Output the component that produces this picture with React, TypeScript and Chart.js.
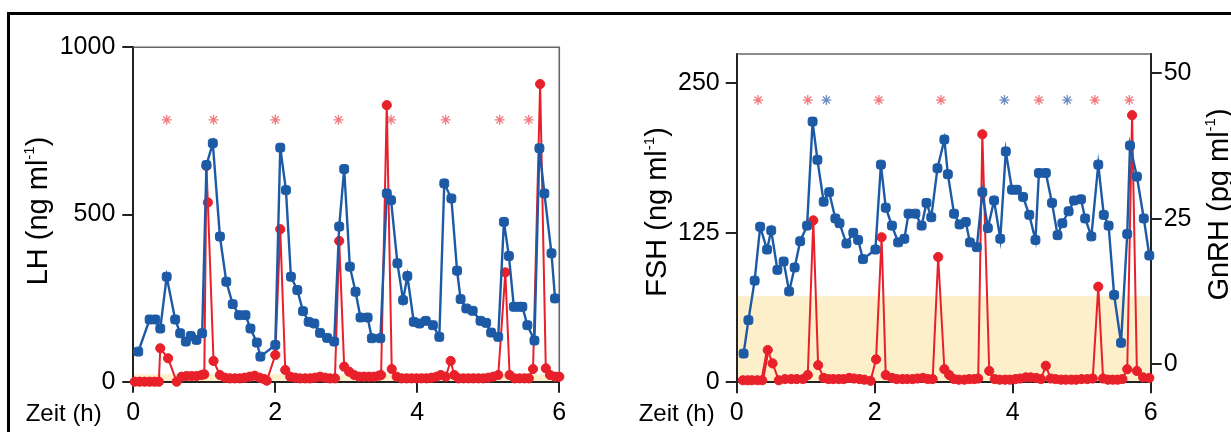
import React, { useEffect, useRef } from 'react';
import { Chart, registerables } from 'chart.js';

Chart.register(...registerables);

// ---------------- DATA ----------------
const timeTicks = [0, 2, 4, 6];
const lhTicks = [0, 500, 1000];
const fshTicks = [0, 125, 250];
const gnrhTicks = [0, 25, 50];

// LH (blue, left panel)
const lhTime = [0.07, 0.23, 0.31, 0.38, 0.47, 0.59, 0.66, 0.74, 0.81, 0.89, 0.97, 1.03, 1.12, 1.22, 1.31, 1.40, 1.49, 1.58, 1.65, 1.74, 1.79, 2.00, 2.07, 2.15, 2.22, 2.31, 2.39, 2.47, 2.55, 2.63, 2.73, 2.83, 2.90, 2.97, 3.05, 3.13, 3.20, 3.30, 3.36, 3.48, 3.57, 3.63, 3.72, 3.80, 3.86, 3.95, 4.03, 4.12, 4.22, 4.31, 4.38, 4.48, 4.56, 4.61, 4.69, 4.78, 4.89, 4.97, 5.04, 5.14, 5.22, 5.29, 5.36, 5.43, 5.48, 5.55, 5.65, 5.72, 5.79, 5.89, 5.94];
const lhValue = [90, 186, 186, 159, 314, 186, 145, 120, 137, 125, 145, 648, 713, 434, 299, 232, 199, 199, 159, 117, 75, 110, 700, 573, 314, 274, 211, 179, 174, 146, 131, 120, 464, 636, 344, 269, 192, 192, 130, 130, 563, 543, 354, 244, 316, 179, 174, 182, 169, 134, 593, 548, 332, 247, 219, 212, 182, 176, 147, 134, 478, 376, 224, 224, 224, 169, 123, 698, 563, 384, 249];

// GnRH (red, left panel, on LH scale)
const gnrhLhTime = [0.02, 0.09, 0.16, 0.23, 0.30, 0.36, 0.38, 0.49, 0.61, 0.68, 0.75, 0.82, 0.89, 0.96, 1.00, 1.03, 1.05, 1.13, 1.22, 1.29, 1.36, 1.43, 1.50, 1.57, 1.64, 1.71, 1.78, 1.84, 1.88, 2.00, 2.07, 2.14, 2.21, 2.28, 2.35, 2.42, 2.49, 2.56, 2.63, 2.70, 2.77, 2.84, 2.90, 2.97, 3.04, 3.11, 3.18, 3.25, 3.32, 3.39, 3.46, 3.49, 3.57, 3.64, 3.71, 3.78, 3.85, 3.92, 3.99, 4.06, 4.13, 4.20, 4.27, 4.33, 4.40, 4.47, 4.52, 4.58, 4.65, 4.72, 4.79, 4.86, 4.93, 5.00, 5.07, 5.14, 5.24, 5.30, 5.37, 5.44, 5.51, 5.57, 5.63, 5.73, 5.81, 5.87, 5.94, 6.00];
const gnrhLhValue = [0, 0, 0, 0, 0, 0, 100, 70, 0, 15, 17, 17, 17, 20, 22, 645, 536, 62, 20, 12, 10, 10, 10, 12, 15, 18, 12, 8, 3, 80, 456, 35, 15, 12, 10, 10, 10, 12, 15, 12, 10, 10, 421, 45, 30, 20, 15, 15, 15, 15, 18, 20, 827, 38, 15, 10, 10, 10, 10, 10, 10, 12, 15, 20, 15, 62, 20, 10, 10, 10, 10, 10, 10, 12, 15, 20, 327, 20, 10, 10, 10, 10, 38, 890, 40, 20, 15, 15];

// FSH (blue, right panel)
const fshTime = [0.10, 0.17, 0.26, 0.34, 0.44, 0.50, 0.59, 0.68, 0.76, 0.84, 0.92, 1.02, 1.10, 1.17, 1.26, 1.34, 1.43, 1.49, 1.59, 1.69, 1.76, 1.83, 2.01, 2.09, 2.16, 2.25, 2.34, 2.43, 2.49, 2.59, 2.68, 2.75, 2.82, 2.91, 3.01, 3.06, 3.15, 3.23, 3.32, 3.38, 3.48, 3.56, 3.64, 3.73, 3.82, 3.90, 3.99, 4.06, 4.15, 4.24, 4.33, 4.38, 4.48, 4.57, 4.65, 4.72, 4.81, 4.89, 4.99, 5.05, 5.14, 5.24, 5.32, 5.39, 5.47, 5.57, 5.66, 5.70, 5.80, 5.90, 5.98];
const fshValue = [24, 52, 85, 130, 111, 127, 94, 101, 76, 96, 118, 131, 218, 186, 151, 159, 137, 133, 116, 125, 119, 103, 111, 182, 146, 131, 117, 120, 141, 141, 131, 150, 138, 179, 203, 174, 141, 132, 134, 117, 113, 159, 129, 152, 120, 193, 161, 161, 155, 140, 119, 175, 175, 150, 123, 133, 143, 152, 153, 137, 122, 182, 140, 131, 73, 33, 124, 198, 172, 137, 106];

// GnRH (red, right panel, on GnRH axis)
const gnrhFshTime = [0.09, 0.16, 0.22, 0.30, 0.37, 0.45, 0.52, 0.61, 0.70, 0.79, 0.87, 0.96, 1.03, 1.11, 1.18, 1.26, 1.33, 1.40, 1.48, 1.55, 1.63, 1.70, 1.78, 1.85, 1.94, 2.02, 2.10, 2.16, 2.25, 2.32, 2.40, 2.47, 2.55, 2.62, 2.70, 2.77, 2.84, 2.92, 3.01, 3.08, 3.15, 3.22, 3.30, 3.37, 3.44, 3.50, 3.56, 3.66, 3.74, 3.81, 3.89, 3.96, 4.04, 4.11, 4.19, 4.26, 4.34, 4.41, 4.48, 4.55, 4.62, 4.70, 4.77, 4.85, 4.92, 5.00, 5.08, 5.16, 5.24, 5.31, 5.38, 5.45, 5.52, 5.59, 5.66, 5.73, 5.80, 5.89, 5.98];
const gnrhFshValue = [-2.8, -2.8, -2.8, -2.8, -2.8, 2.4, 0.1, -2.8, -2.6, -2.6, -2.6, -2.6, -1.9, 24.7, -0.2, -2.4, -2.6, -2.6, -2.6, -2.6, -2.4, -2.5, -2.6, -2.7, -2.9, 0.8, 21.8, -1.9, -2.4, -2.6, -2.6, -2.6, -2.6, -2.5, -2.4, -2.6, -2.6, 18.4, -0.9, -1.9, -2.6, -2.7, -2.7, -2.6, -2.6, -2.5, 39.5, -1.2, -2.6, -2.7, -2.7, -2.7, -2.6, -2.5, -2.3, -2.3, -2.4, -2.6, -0.3, -2.5, -2.6, -2.7, -2.7, -2.7, -2.7, -2.6, -2.6, -2.5, 13.3, -2.5, -2.7, -2.7, -2.7, -2.6, -0.9, 42.8, -1.2, -2.3, -2.4];

// pulse markers (asterisks)
const lhPulseTimes = [0.47, 1.13, 2.0, 2.89, 3.63, 4.4, 5.16, 5.57];
const lhPulseLevel = 783;
const fshPulseRedTimes = [0.31, 1.03, 2.06, 2.96, 4.38, 5.19, 5.69];
const fshPulseBlueTimes = [1.3, 3.88, 4.79];
const fshPulseLevel = 236;

// shaded reference bands
const lhBand = [0, 22];
const fshBand = [0, 72];

// ---------------- STYLE ----------------
const FONT = '"Liberation Sans", Arial, Helvetica, sans-serif';
const BLUE = '#1d5aa6';
const RED = '#e8202a';
const PINK = '#f07a7e';
const STEEL = '#6e8dc4';
const BAND = '#fcefc9';
const AXIS = '#222';
const TICK_SIZE = 25;

const W = 1231;
const H = 432;

const zip = (xs: number[], ys: number[]) => xs.map((x, i) => ({ x, y: ys[i] }));
const flat = (xs: number[], y: number) => xs.map((x) => ({ x, y }));

function drawVLabel(ctx: CanvasRenderingContext2D, x: number, yc: number, main: string, sup: string, tail: string, size: number) {
  ctx.save();
  ctx.fillStyle = '#000';
  const f = `${size}px ${FONT}`;
  const supSize = Math.round(size * 0.52);
  const fs = `${supSize}px ${FONT}`;
  ctx.font = f;
  const w1 = ctx.measureText(main).width;
  const w3 = ctx.measureText(tail).width;
  ctx.font = fs;
  const w2 = ctx.measureText(sup).width;
  const total = w1 + w2 + w3;
  ctx.translate(x, yc);
  ctx.rotate(-Math.PI / 2);
  ctx.textAlign = 'left';
  ctx.textBaseline = 'alphabetic';
  const s = -total / 2;
  ctx.font = f;
  ctx.fillText(main, s, 0);
  ctx.font = fs;
  ctx.fillText(sup, s + w1, -size * 0.44);
  ctx.font = f;
  ctx.fillText(tail, s + w1 + w2, 0);
  ctx.restore();
}

function drawText(ctx: CanvasRenderingContext2D, text: string, x: number, y: number, size: number) {
  ctx.save();
  ctx.fillStyle = '#000';
  ctx.font = `${size}px ${FONT}`;
  ctx.textAlign = 'left';
  ctx.textBaseline = 'alphabetic';
  ctx.fillText(text, x, y);
  ctx.restore();
}

const bandPlugin = (scaleId: string, band: number[]) => ({
  id: 'band',
  beforeDraw(chart: any) {
    const { ctx, chartArea: a } = chart;
    const s = chart.scales[scaleId];
    const y1 = s.getPixelForValue(band[1]);
    const y0 = s.getPixelForValue(band[0]);
    ctx.save();
    ctx.fillStyle = BAND;
    ctx.fillRect(a.left, y1, a.right - a.left, y0 - y1);
    ctx.restore();
  },
});

const framePlugin = (rightSide: boolean) => ({
  id: 'frame',
  beforeDatasetsDraw(chart: any) {
    const { ctx, chartArea: a } = chart;
    ctx.save();
    ctx.strokeStyle = '#666';
    ctx.lineWidth = 1.6;
    ctx.beginPath();
    ctx.moveTo(a.left, a.top);
    ctx.lineTo(a.right, a.top);
    if (rightSide) ctx.lineTo(a.right, a.bottom);
    ctx.stroke();
    ctx.restore();
  },
});

const tickFix = (vals: number[]) => (s: any) => {
  s.ticks = vals.map((v) => ({ value: v }));
};

const axisBase = (pad: number) => ({
  ticks: {
    color: '#000',
    font: { family: FONT, size: TICK_SIZE },
    padding: pad,
    autoSkip: false,
    maxRotation: 0,
    minRotation: 0,
    callback: (v: any) => String(v),
  },
  grid: { drawOnChartArea: false, drawTicks: true, tickLength: 11, color: AXIS, lineWidth: 2 },
  border: { display: true, color: AXIS, width: 2 },
});

const blueSet = (data: any[], yAxisID: string) => ({
  data,
  yAxisID,
  borderColor: BLUE,
  backgroundColor: BLUE,
  borderWidth: 2.4,
  pointStyle: 'rectRounded',
  pointRadius: 5.2,
  pointBorderWidth: 1,
  pointBackgroundColor: BLUE,
  pointBorderColor: BLUE,
  tension: 0,
  clip: false,
});

const redSet = (data: any[], yAxisID: string, thickIndex = -1) => ({
  data,
  yAxisID,
  borderColor: RED,
  backgroundColor: RED,
  borderWidth: 2,
  pointStyle: 'circle',
  pointRadius: 4.6,
  pointBorderWidth: 1,
  pointBackgroundColor: RED,
  pointBorderColor: RED,
  tension: 0,
  clip: false,
  segment: {
    borderWidth: (c: any) => (c.p0DataIndex === thickIndex ? 3.6 : 2),
  },
});

const starSet = (data: any[], yAxisID: string, color: string) => ({
  data,
  yAxisID,
  showLine: false,
  pointStyle: 'star',
  pointRadius: 5,
  pointBorderWidth: 1.3,
  pointBorderColor: color,
  pointBackgroundColor: color,
  borderColor: color,
  clip: false,
});

function makeLeft(canvas: HTMLCanvasElement) {
  return new Chart(canvas, {
    type: 'line',
    data: {
      datasets: [
        blueSet(zip(lhTime, lhValue), 'y') as any,
        redSet(zip(gnrhLhTime, gnrhLhValue), 'y') as any,
        starSet(flat(lhPulseTimes, lhPulseLevel), 'y', PINK) as any,
      ],
    },
    options: {
      responsive: false,
      maintainAspectRatio: false,
      animation: false,
      events: [],
      layout: { padding: { left: 0, top: 47.3, right: W - 559.3, bottom: 0 } },
      plugins: { legend: { display: false }, tooltip: { enabled: false } },
      scales: {
        x: {
          type: 'linear',
          min: 0,
          max: 6,
          afterBuildTicks: tickFix(timeTicks),
          afterFit: (s: any) => { s.height = H - 381.7; },
          ...axisBase(5),
        } as any,
        y: {
          type: 'linear',
          min: 0,
          max: 1000,
          afterBuildTicks: tickFix(lhTicks),
          afterFit: (s: any) => { s.width = 133.3; },
          ...axisBase(7),
        } as any,
      },
    },
    plugins: [
      bandPlugin('y', lhBand),
      framePlugin(true),
      {
        id: 'labels',
        afterDraw(chart: any) {
          const ctx = chart.ctx;
          drawVLabel(ctx, 46.6, 211, 'LH (ng ml', '-1', ')', 29);
          drawText(ctx, 'Zeit (h)', 25.7, 421, 24);
        },
      },
    ],
  });
}

function makeRight(canvas: HTMLCanvasElement) {
  return new Chart(canvas, {
    type: 'line',
    data: {
      datasets: [
        blueSet(zip(fshTime, fshValue), 'yF') as any,
        redSet(zip(gnrhFshTime, gnrhFshValue), 'yG', 4) as any,
        starSet(flat(fshPulseRedTimes, fshPulseLevel), 'yF', PINK) as any,
        starSet(flat(fshPulseBlueTimes, fshPulseLevel), 'yF', STEEL) as any,
      ],
    },
    options: {
      responsive: false,
      maintainAspectRatio: false,
      animation: false,
      events: [],
      layout: { padding: { left: 0, top: 54, right: 0, bottom: 0 } },
      plugins: { legend: { display: false }, tooltip: { enabled: false } },
      scales: {
        x: {
          type: 'linear',
          min: 0,
          max: 6,
          afterBuildTicks: tickFix(timeTicks),
          afterFit: (s: any) => { s.height = H - 382.3; },
          ...axisBase(5),
        } as any,
        yF: {
          type: 'linear',
          position: 'left',
          min: 0,
          max: 274.5,
          afterBuildTicks: tickFix(fshTicks),
          afterFit: (s: any) => { s.width = 736.7; },
          ...axisBase(6),
        } as any,
        yG: {
          type: 'linear',
          position: 'right',
          min: -3.15,
          max: 53.32,
          afterBuildTicks: tickFix(gnrhTicks),
          afterFit: (s: any) => { s.width = W - 1150.7; },
          ...axisBase(2),
        } as any,
      },
    },
    plugins: [
      bandPlugin('yF', fshBand),
      framePlugin(false),
      {
        id: 'labels',
        afterDraw(chart: any) {
          const ctx = chart.ctx;
          drawVLabel(ctx, 666.3, 212, 'FSH (ng ml', '-1', ')', 29);
          drawVLabel(ctx, 1227.5, 204.5, 'GnRH (pg ml', '-1', ')', 29);
          drawText(ctx, 'Zeit (h)', 638.7, 421, 24);
        },
      },
    ],
  });
}

export default function App() {
  const leftRef = useRef<HTMLCanvasElement>(null);
  const rightRef = useRef<HTMLCanvasElement>(null);

  useEffect(() => {
    const a = makeLeft(leftRef.current!);
    const b = makeRight(rightRef.current!);
    return () => {
      a.destroy();
      b.destroy();
    };
  }, []);

  const canvasStyle: React.CSSProperties = { position: 'absolute', left: 0, top: 0, width: W, height: H };

  return (
    <div style={{ position: 'absolute', left: 0, top: 0, width: W, height: H, overflow: 'hidden', background: '#fff' }}>
      <div
        style={{
          position: 'absolute',
          left: 7,
          top: 12,
          width: W + 50,
          height: H + 50,
          borderTop: '3px solid #000',
          borderLeft: '3px solid #000',
        }}
      />
      <canvas ref={leftRef} width={W} height={H} style={canvasStyle} />
      <canvas ref={rightRef} width={W} height={H} style={canvasStyle} />
    </div>
  );
}
